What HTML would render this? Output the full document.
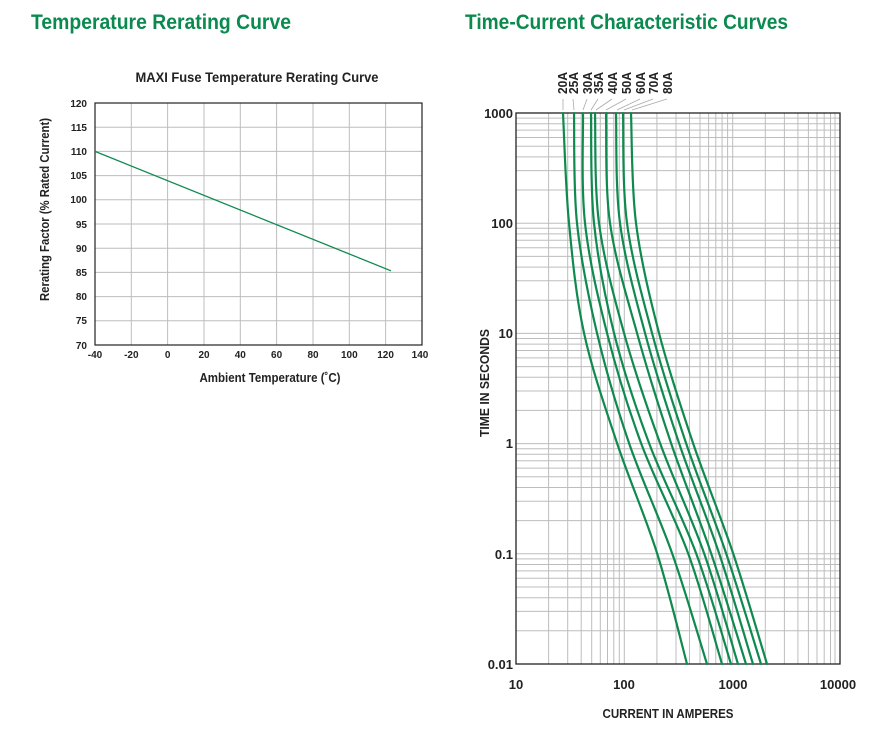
<!DOCTYPE html>
<html><head><meta charset="utf-8"><style>
html,body{margin:0;padding:0;background:#fff;}
svg{display:block;}
text{font-family:"Liberation Sans Narrow","Liberation Sans",sans-serif;font-weight:bold;fill:#222;}
</style></head><body>
<svg id="s" width="877" height="739" viewBox="0 0 877 739" xmlns="http://www.w3.org/2000/svg">
<text x="31" y="29" font-size="21" style="fill:#0a8a4f" textLength="260" lengthAdjust="spacingAndGlyphs">Temperature Rerating Curve</text>
<text x="465" y="29" font-size="21" style="fill:#0a8a4f" textLength="323" lengthAdjust="spacingAndGlyphs">Time-Current Characteristic Curves</text>

<text x="257" y="82" font-size="14" text-anchor="middle" textLength="243" lengthAdjust="spacingAndGlyphs">MAXI Fuse Temperature Rerating Curve</text>
<g stroke="#bdbdbd" stroke-width="1">
<line x1="131.3" y1="103" x2="131.3" y2="345"/><line x1="167.6" y1="103" x2="167.6" y2="345"/>
<line x1="204" y1="103" x2="204" y2="345"/><line x1="240.3" y1="103" x2="240.3" y2="345"/>
<line x1="276.6" y1="103" x2="276.6" y2="345"/><line x1="313" y1="103" x2="313" y2="345"/>
<line x1="349.3" y1="103" x2="349.3" y2="345"/><line x1="385.6" y1="103" x2="385.6" y2="345"/>
<line x1="95" y1="127.2" x2="422" y2="127.2"/><line x1="95" y1="151.4" x2="422" y2="151.4"/>
<line x1="95" y1="175.6" x2="422" y2="175.6"/><line x1="95" y1="199.8" x2="422" y2="199.8"/>
<line x1="95" y1="224" x2="422" y2="224"/><line x1="95" y1="248.2" x2="422" y2="248.2"/>
<line x1="95" y1="272.4" x2="422" y2="272.4"/><line x1="95" y1="296.6" x2="422" y2="296.6"/>
<line x1="95" y1="320.8" x2="422" y2="320.8"/>
</g>
<rect x="95" y="103" width="327" height="242" fill="none" stroke="#222" stroke-width="1.2"/>
<line x1="95" y1="151.4" x2="391" y2="270.8" stroke="#0f8a4f" stroke-width="1.3"/>
<g font-size="10" text-anchor="end">
<text x="87" y="107">120</text><text x="87" y="131">115</text><text x="87" y="155">110</text>
<text x="87" y="179">105</text><text x="87" y="203">100</text><text x="87" y="228">95</text>
<text x="87" y="252">90</text><text x="87" y="276">85</text><text x="87" y="300">80</text>
<text x="87" y="324">75</text><text x="87" y="349">70</text>
</g>
<g font-size="10" text-anchor="middle">
<text x="95" y="358">-40</text><text x="131.3" y="358">-20</text><text x="167.6" y="358">0</text>
<text x="204" y="358">20</text><text x="240.3" y="358">40</text><text x="276.6" y="358">60</text>
<text x="313" y="358">80</text><text x="349.3" y="358">100</text><text x="385.6" y="358">120</text>
<text x="420" y="358">140</text>
</g>
<text x="270" y="382" font-size="12.5" text-anchor="middle" textLength="141" lengthAdjust="spacingAndGlyphs">Ambient Temperature (˚C)</text>
<text transform="translate(49,301) rotate(-90)" font-size="12.5" textLength="183" lengthAdjust="spacingAndGlyphs">Rerating Factor (% Rated Current)</text>

<g stroke="#bdbdbd" stroke-width="1">
<line x1="548.6" y1="113" x2="548.6" y2="664"/><line x1="567.7" y1="113" x2="567.7" y2="664"/>
<line x1="581.2" y1="113" x2="581.2" y2="664"/><line x1="591.7" y1="113" x2="591.7" y2="664"/>
<line x1="600.3" y1="113" x2="600.3" y2="664"/><line x1="607.5" y1="113" x2="607.5" y2="664"/>
<line x1="613.8" y1="113" x2="613.8" y2="664"/><line x1="619.3" y1="113" x2="619.3" y2="664"/>
<line x1="624.3" y1="113" x2="624.3" y2="664"/>
<line x1="656.9" y1="113" x2="656.9" y2="664"/><line x1="676" y1="113" x2="676" y2="664"/>
<line x1="689.5" y1="113" x2="689.5" y2="664"/><line x1="700" y1="113" x2="700" y2="664"/>
<line x1="708.6" y1="113" x2="708.6" y2="664"/><line x1="715.8" y1="113" x2="715.8" y2="664"/>
<line x1="722.1" y1="113" x2="722.1" y2="664"/><line x1="727.6" y1="113" x2="727.6" y2="664"/>
<line x1="732.7" y1="113" x2="732.7" y2="664"/>
<line x1="765.3" y1="113" x2="765.3" y2="664"/><line x1="784.4" y1="113" x2="784.4" y2="664"/>
<line x1="797.9" y1="113" x2="797.9" y2="664"/><line x1="808.4" y1="113" x2="808.4" y2="664"/>
<line x1="817" y1="113" x2="817" y2="664"/><line x1="824.2" y1="113" x2="824.2" y2="664"/>
<line x1="830.5" y1="113" x2="830.5" y2="664"/><line x1="835" y1="113" x2="835" y2="664"/>
</g>
<g stroke="#bdbdbd" stroke-width="1" id="hd">
<line x1="516" x2="840" y1="630.8" y2="630.8"/><line x1="516" x2="840" y1="611.4" y2="611.4"/>
<line x1="516" x2="840" y1="597.7" y2="597.7"/><line x1="516" x2="840" y1="587" y2="587"/>
<line x1="516" x2="840" y1="578.3" y2="578.3"/><line x1="516" x2="840" y1="570.9" y2="570.9"/>
<line x1="516" x2="840" y1="564.5" y2="564.5"/><line x1="516" x2="840" y1="558.9" y2="558.9"/>
<line x1="516" x2="840" y1="553.8" y2="553.8"/>
</g>
<use href="#hd" transform="translate(0,-110.2)"/>
<use href="#hd" transform="translate(0,-220.4)"/>
<use href="#hd" transform="translate(0,-330.6)"/>
<use href="#hd" transform="translate(0,-440.8)"/>
<rect x="516" y="113" width="324" height="551" fill="none" stroke="#222" stroke-width="1.3"/>

<g id="curves" fill="none" stroke="#0f8a4f" stroke-width="2.2" stroke-linecap="round"></g>
<g stroke="#aaa" stroke-width="0.8">
<line x1="563" y1="99" x2="563" y2="110"/><line x1="573" y1="99" x2="574" y2="110"/>
<line x1="587" y1="99" x2="583" y2="110"/><line x1="598" y1="99" x2="591" y2="110"/>
<line x1="612" y1="99" x2="596" y2="110"/><line x1="626" y1="99" x2="606" y2="110"/>
<line x1="640" y1="99" x2="617" y2="110"/><line x1="653" y1="99" x2="624" y2="110"/>
<line x1="667" y1="99" x2="632" y2="110"/>
</g>
<g font-size="13">
<text transform="translate(567,94) rotate(-90)" textLength="22" lengthAdjust="spacingAndGlyphs">20A</text>
<text transform="translate(578,94) rotate(-90)" textLength="22" lengthAdjust="spacingAndGlyphs">25A</text>
<text transform="translate(592,94) rotate(-90)" textLength="22" lengthAdjust="spacingAndGlyphs">30A</text>
<text transform="translate(603,94) rotate(-90)" textLength="22" lengthAdjust="spacingAndGlyphs">35A</text>
<text transform="translate(617,94) rotate(-90)" textLength="22" lengthAdjust="spacingAndGlyphs">40A</text>
<text transform="translate(631,94) rotate(-90)" textLength="22" lengthAdjust="spacingAndGlyphs">50A</text>
<text transform="translate(645,94) rotate(-90)" textLength="22" lengthAdjust="spacingAndGlyphs">60A</text>
<text transform="translate(658,94) rotate(-90)" textLength="22" lengthAdjust="spacingAndGlyphs">70A</text>
<text transform="translate(672,94) rotate(-90)" textLength="22" lengthAdjust="spacingAndGlyphs">80A</text>
</g>
<g font-size="13" text-anchor="end">
<text x="513" y="118">1000</text><text x="513" y="228">100</text><text x="513" y="338">10</text>
<text x="513" y="448">1</text><text x="513" y="559">0.1</text><text x="513" y="669">0.01</text>
</g>
<g font-size="13" text-anchor="middle">
<text x="516" y="689">10</text><text x="624" y="689">100</text><text x="733" y="689">1000</text><text x="838" y="689">10000</text>
</g>
<text x="668" y="718" font-size="12.5" text-anchor="middle" textLength="131" lengthAdjust="spacingAndGlyphs">CURRENT IN AMPERES</text>
<text transform="translate(489,437) rotate(-90)" font-size="12.5" textLength="108" lengthAdjust="spacingAndGlyphs">TIME IN SECONDS</text>
</svg>
<script>
(function(){
var ys=[113,223,333,443,553,664];
var data=[
[563,569,584,617,657,687],
[574,577,597,629,672,707],
[583,585,607,641,688,722],
[591,594,614,649,696,731],
[595,599,624,660,704,738],
[606,610,637,671,711,746],
[616,620,645,679,719,753],
[623,627,652,686,726,761],
[631,636,659,693,733,767]];
var g=document.getElementById('curves'),ns='http://www.w3.org/2000/svg';
data.forEach(function(xs){
  var p=xs.map(function(x,i){return [x,ys[i]];});
  var d='M'+p[0][0]+','+p[0][1];
  for(var i=0;i<p.length-1;i++){
    var p0=p[i-1]||p[i],p1=p[i],p2=p[i+1],p3=p[i+2]||p[i+1];
    var c1=[p1[0]+(p2[0]-p0[0])/6,p1[1]+(p2[1]-p0[1])/6];
    var c2=[p2[0]-(p3[0]-p1[0])/6,p2[1]-(p3[1]-p1[1])/6];
    d+=' C'+c1.join(',')+' '+c2.join(',')+' '+p2.join(',');
  }
  var e=document.createElementNS(ns,'path');e.setAttribute('d',d);g.appendChild(e);
});
})();
</script>
</body></html>
